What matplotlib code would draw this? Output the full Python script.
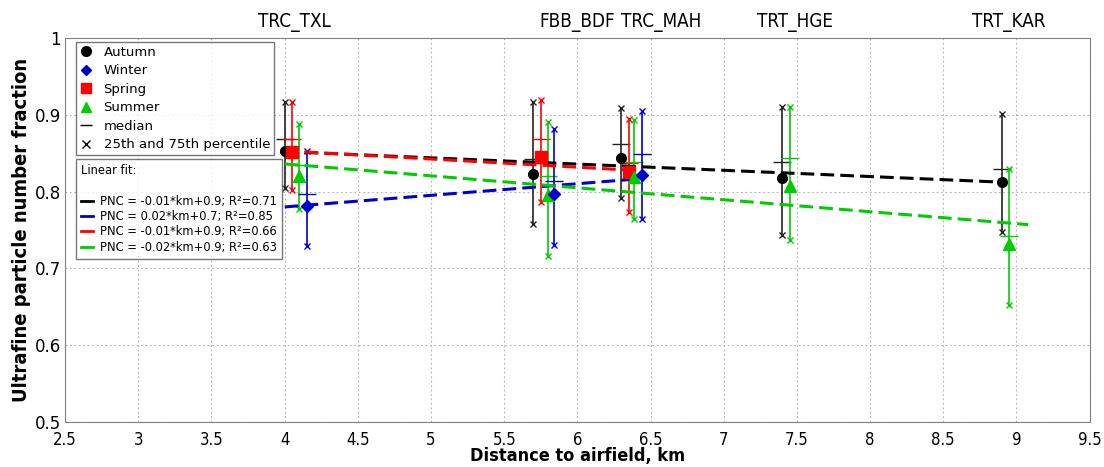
import matplotlib
matplotlib.use("Agg")
import matplotlib.pyplot as plt
from matplotlib.lines import Line2D

# ---------------- data ----------------
stations = ["TRC_TXL", "FBB_BDF", "TRC_MAH", "TRT_HGE", "TRT_KAR"]
station_label_x = [4.07, 6.0, 6.57, 7.49, 8.95]

autumn_x = [4.0, 5.7, 6.3, 7.4, 8.9]
autumn_mean = [0.853, 0.823, 0.844, 0.817, 0.813]
autumn_median = [0.868, 0.842, 0.862, 0.839, 0.830]
autumn_p25 = [0.805, 0.758, 0.792, 0.743, 0.748]
autumn_p75 = [0.917, 0.916, 0.909, 0.910, 0.901]

winter_x = [4.15, 5.84, 6.44]
winter_mean = [0.781, 0.797, 0.822]
winter_median = [0.797, 0.814, 0.849]
winter_p25 = [0.729, 0.731, 0.764]
winter_p75 = [0.853, 0.882, 0.905]

spring_x = [4.05, 5.75, 6.35]
spring_mean = [0.852, 0.845, 0.826]
spring_median = [0.868, 0.869, 0.837]
spring_p25 = [0.802, 0.787, 0.773]
spring_p75 = [0.917, 0.919, 0.895]

summer_x = [4.1, 5.8, 6.39, 7.45, 8.95]
summer_mean = [0.820, 0.796, 0.819, 0.807, 0.732]
summer_median = [0.835, 0.820, 0.839, 0.844, 0.742]
summer_p25 = [0.777, 0.716, 0.764, 0.737, 0.653]
summer_p75 = [0.888, 0.891, 0.893, 0.910, 0.829]

fit_autumn_x = [4.0, 8.93]
fit_autumn_y = [0.852, 0.812]
fit_winter_x = [4.0, 6.45]
fit_winter_y = [0.780, 0.817]
fit_spring_x = [4.0, 6.35]
fit_spring_y = [0.853, 0.828]
fit_summer_x = [4.0, 9.08]
fit_summer_y = [0.836, 0.757]

fit_labels = ["PNC = -0.01*km+0.9; R²=0.71",
              "PNC = 0.02*km+0.7; R²=0.85",
              "PNC = -0.01*km+0.9; R²=0.66",
              "PNC = -0.02*km+0.9; R²=0.63"]

x_ticks = [2.5, 3, 3.5, 4, 4.5, 5, 5.5, 6, 6.5, 7, 7.5, 8, 8.5, 9, 9.5]
x_tick_labels = ["2.5", "3", "3.5", "4", "4.5", "5", "5.5", "6", "6.5", "7", "7.5", "8", "8.5", "9", "9.5"]
y_ticks = [0.5, 0.6, 0.7, 0.8, 0.9, 1.0]
y_tick_labels = ["0.5", "0.6", "0.7", "0.8", "0.9", "1"]

# ---------------- style ----------------
BLACK = "#000000"
BLUE = "#0000CC"
RED = "#FF0000"
GREEN = "#00CC00"

fig = plt.figure(figsize=(11.04, 4.67), dpi=100)
ax = fig.add_axes([0.059, 0.096, 0.928, 0.823])

seasons = [
    (autumn_x, autumn_mean, autumn_median, autumn_p25, autumn_p75, BLACK, "o", 7, "#222222"),
    (spring_x, spring_mean, spring_median, spring_p25, spring_p75, RED, "s", 8, RED),
    (summer_x, summer_mean, summer_median, summer_p25, summer_p75, GREEN, "^", 8, GREEN),
    (winter_x, winter_mean, winter_median, winter_p25, winter_p75, BLUE, "D", 6, BLUE),
]

for xs, mean, med, p25, p75, col, mk, ms, lcol in seasons:
    ax.vlines(xs, p25, p75, color=lcol, lw=1.2, zorder=3)
    ax.plot(xs, p25, ls="none", marker="x", ms=5, mew=1.0, color=lcol, zorder=3)
    ax.plot(xs, p75, ls="none", marker="x", ms=5, mew=1.0, color=lcol, zorder=3)
    ax.plot(xs, med, ls="none", marker="_", ms=13, mew=1.0, color=lcol, zorder=3)
    ax.plot(xs, mean, ls="none", marker=mk, ms=ms, color=col, mec=col, zorder=5)

fits = [(fit_autumn_x, fit_autumn_y, BLACK), (fit_winter_x, fit_winter_y, BLUE),
        (fit_spring_x, fit_spring_y, RED), (fit_summer_x, fit_summer_y, GREEN)]
for fx, fy, col in fits:
    ax.plot(fx, fy, ls=(0, (4.5, 2)), lw=2.2, color=col, zorder=4)

ax.set_xlim(2.5, 9.5)
ax.set_ylim(0.5, 1.0)
ax.set_xticks(x_ticks)
ax.set_xticklabels(x_tick_labels, fontsize=12, fontstretch="condensed")
ax.set_yticks(y_ticks)
ax.set_yticklabels(y_tick_labels, fontsize=12)
ax.tick_params(axis="x", direction="in", length=0, pad=6)
ax.tick_params(axis="y", direction="in", length=0, pad=3)
ax.grid(True, ls=(0, (1.5, 2.5)), color="#b0b0b0", lw=0.8)
for s in ax.spines.values():
    s.set_color("#808080")

ax.set_xlabel("Distance to airfield, km", fontsize=13, fontweight="bold",
              fontstretch="condensed", labelpad=-1)
ax.set_ylabel("Ultrafine particle number fraction", fontsize=14.5, fontweight="bold",
              fontstretch="condensed", labelpad=3)

for name, sx in zip(stations, station_label_x):
    ax.text(sx, 1.014, name, transform=ax.get_xaxis_transform(), ha="center", va="bottom",
            fontsize=13.5, fontstretch="condensed")

# legend 1: markers
h1 = [
    Line2D([], [], ls="none", marker="o", ms=7, color=BLACK),
    Line2D([], [], ls="none", marker="D", ms=5, color=BLUE),
    Line2D([], [], ls="none", marker="s", ms=7, color=RED),
    Line2D([], [], ls="none", marker="^", ms=7, color=GREEN),
    Line2D([], [], ls="none", marker="_", ms=9, mew=1.0, color=BLACK),
    Line2D([], [], ls="none", marker="x", ms=6, mew=1.0, color=BLACK),
]
l1 = ["Autumn", "Winter", "Spring", "Summer", "median", "25th and 75th percentile"]
leg1 = ax.legend(h1, l1, loc="upper left", bbox_to_anchor=(0.0105, 0.99), fontsize=9.5,
                 frameon=True, fancybox=False, edgecolor="#555555", handlelength=1.0,
                 handletextpad=0.8, labelspacing=0.42, borderpad=0.3, borderaxespad=0)
leg1.get_frame().set_linewidth(1.0)
leg1.set_zorder(10)
ax.add_artist(leg1)

h2 = [Line2D([], [], color=c, lw=2) for c in (BLACK, BLUE, RED, GREEN)]
leg2 = ax.legend(h2, fit_labels, loc="upper left", bbox_to_anchor=(0.0105, 0.684), fontsize=8.3,
                 title="Linear fit:\n", title_fontsize=8.3, alignment="left",
                 frameon=True, fancybox=False, edgecolor="#555555", handlelength=1.0,
                 handletextpad=0.6, labelspacing=0.2, borderpad=0.45, borderaxespad=0)
leg2.get_frame().set_linewidth(1.0)
leg2.set_zorder(10)

fig.savefig("out.png", dpi=100)
